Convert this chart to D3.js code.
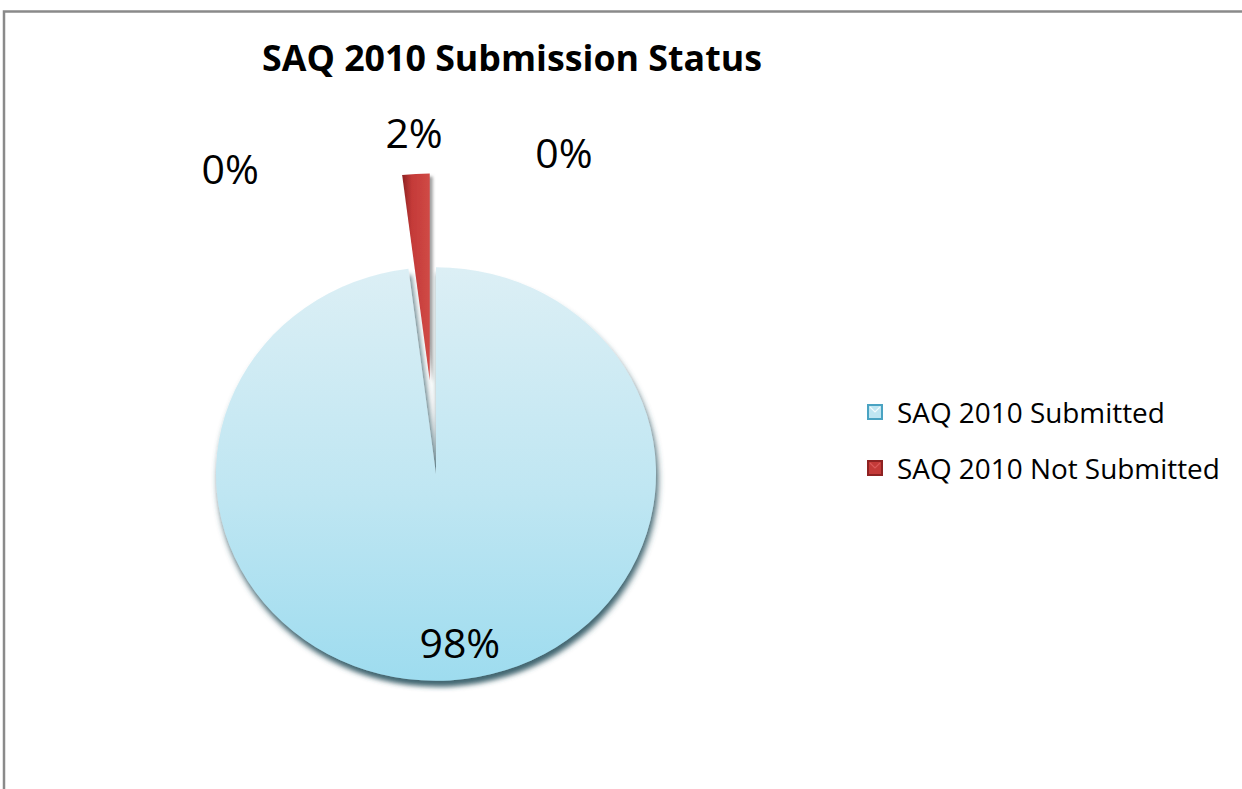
<!DOCTYPE html>
<html>
<head>
<meta charset="utf-8">
<script src="https://cdn.jsdelivr.net/npm/d3@7/dist/d3.min.js"></script>
<style>
  html, body { margin: 0; padding: 0; background: #fff; }
  svg { display: block; }
  text { font-family: "Open Sans", "Noto Sans", sans-serif; fill: #000; }
</style>
</head>
<body>
<svg id="chart" width="1242" height="789"></svg>
<script>
// ---- data ----
const chartTitle = "SAQ 2010 Submission Status";
const categories = ["SAQ 2010 Submitted", "SAQ 2010 Not Submitted", "", ""];
const values = [98, 2, 0, 0];
const legendCategories = ["SAQ 2010 Submitted", "SAQ 2010 Not Submitted"];

// ---- layout ----
const W = 1242, H = 789;
const cx = 436, cy = 474, R = 220, squash = 0.94;
const explode = [0, 100, 0, 0];
const svg = d3.select("#chart");
const defs = svg.append("defs");

// frame
svg.append("path")
  .attr("d", `M4,789 V11.5 H1242`)
  .attr("fill", "none").attr("stroke", "#8a8a8a").attr("stroke-width", 2.5);

// gradients
const gBlue = defs.append("linearGradient").attr("id", "gBlue")
  .attr("x1", 0).attr("y1", 0).attr("x2", 0).attr("y2", 1);
gBlue.append("stop").attr("offset", "0%").attr("stop-color", "#dceff5");
gBlue.append("stop").attr("offset", "55%").attr("stop-color", "#bfe6f2");
gBlue.append("stop").attr("offset", "100%").attr("stop-color", "#9edcef");

const gRed = defs.append("linearGradient").attr("id", "gRed")
  .attr("x1", 0).attr("y1", 0).attr("x2", 1).attr("y2", 0);
gRed.append("stop").attr("offset", "0%").attr("stop-color", "#8e2222");
gRed.append("stop").attr("offset", "35%").attr("stop-color", "#c43a38");
gRed.append("stop").attr("offset", "100%").attr("stop-color", "#d04a46");

const sh = defs.append("filter").attr("id", "shadow")
  .attr("x", "-20%").attr("y", "-20%").attr("width", "140%").attr("height", "140%");
sh.append("feGaussianBlur").attr("in", "SourceAlpha").attr("stdDeviation", 3).attr("result", "b");
sh.append("feOffset").attr("in", "b").attr("dx", 2).attr("dy", 6).attr("result", "o");
sh.append("feFlood").attr("flood-color", "#2c5561").attr("flood-opacity", 0.9);
sh.append("feComposite").attr("in2", "o").attr("operator", "in").attr("result", "s");
const mg = sh.append("feMerge");
mg.append("feMergeNode").attr("in", "s");
mg.append("feMergeNode").attr("in", "SourceGraphic");

const shR = defs.append("filter").attr("id", "shadowR")
  .attr("x", "-50%").attr("y", "-20%").attr("width", "200%").attr("height", "140%");
shR.append("feGaussianBlur").attr("in", "SourceAlpha").attr("stdDeviation", 1.5).attr("result", "b");
shR.append("feOffset").attr("in", "b").attr("dx", 3).attr("dy", 3).attr("result", "o");
shR.append("feFlood").attr("flood-color", "#777").attr("flood-opacity", 0.7);
shR.append("feComposite").attr("in2", "o").attr("operator", "in").attr("result", "s");
const mgR = shR.append("feMerge");
mgR.append("feMergeNode").attr("in", "s");
mgR.append("feMergeNode").attr("in", "SourceGraphic");

const fills = ["url(#gBlue)", "url(#gRed)", "#888", "#888"];
const filters = ["url(#shadow)", "url(#shadowR)", null, null];

// pie
const pie = d3.pie().sort(null).value(d => d)
  .startAngle(0).endAngle(2 * Math.PI);
const arcs = pie(values);
const arc = d3.arc().innerRadius(0).outerRadius(R);

const pg = svg.append("g").attr("transform", `translate(${cx},${cy}) scale(1,${squash})`);
pg.selectAll("path.slice")
  .data(arcs.filter(a => a.value > 0))
  .join("path")
  .attr("class", "slice")
  .attr("d", arc)
  .attr("fill", d => fills[d.index])
  .attr("filter", d => filters[d.index])
  .attr("transform", d => {
    const m = (d.startAngle + d.endAngle) / 2, e = explode[d.index];
    return `translate(${e * Math.sin(m)},${-e * Math.cos(m)})`;
  });

// labels
const fmt = v => Math.round(v / d3.sum(values) * 100) + "%";
// label placement (radius factor, angle shift in degrees) per slice
const labelPlace = [
  { r: 0.82, da: -4 },
  { r: 1.20, da: 0.2 },
  { r: 1.75, da: -32.3 },
  { r: 1.66, da: 20.5 }
];
const labelSize = 41;
function labelPos(d) {
  const p = labelPlace[d.index];
  const mm = (d.startAngle + d.endAngle) / 2;
  const m = mm + p.da * Math.PI / 180;
  const e = explode[d.index];
  return [
    cx + e * Math.sin(mm) + p.r * R * Math.sin(m),
    cy + squash * (-e * Math.cos(mm) - p.r * R * Math.cos(m))
  ];
}
svg.selectAll("text.lbl")
  .data(arcs)
  .join("text")
  .attr("class", "lbl")
  .attr("text-anchor", "middle")
  .attr("dominant-baseline", "central")
  .attr("font-size", labelSize)
  .attr("x", d => labelPos(d)[0])
  .attr("y", d => labelPos(d)[1])
  .text(d => fmt(d.value));

// title
const title = svg.append("text")
  .attr("x", 512).attr("y", 71)
  .attr("text-anchor", "middle")
  .attr("font-weight", "bold")
  .attr("font-size", 30)
  .text(chartTitle);
function fit(sel, target) {
  const w = sel.node().getComputedTextLength();
  const fs = parseFloat(sel.attr("font-size"));
  sel.attr("font-size", fs * target / w);
}
fit(title, 500);

// legend
const lg = svg.append("g").attr("transform", "translate(868,0)");
const legendY = d3.scalePoint().domain(legendCategories).range([412, 468]);
const swFill = ["#bfe6f2", "#c43a38"];
const swStroke = ["#4aa3c2", "#8e2222"];
const items = lg.selectAll("g.item").data(legendCategories).join("g")
  .attr("class", "item")
  .attr("transform", d => `translate(0,${legendY(d)})`);
items.append("rect")
  .attr("x", 0).attr("y", -7).attr("width", 14).attr("height", 14)
  .attr("fill", (d, i) => swFill[i])
  .attr("stroke", (d, i) => swStroke[i]).attr("stroke-width", 2);
items.append("path")
  .attr("d", "M2,-5 L7,0 L12,-5")
  .attr("fill", "none")
  .attr("stroke", (d, i) => i === 0 ? "#ffffff" : "#e06060")
  .attr("stroke-width", 1.2).attr("opacity", 0.8);
const lt = items.append("text")
  .attr("x", 29).attr("y", 0)
  .attr("dominant-baseline", "central")
  .attr("font-size", 24)
  .text(d => d);
fit(d3.select(lt.nodes()[0]), 268);
lt.attr("font-size", d3.select(lt.nodes()[0]).attr("font-size"));
</script>
</body>
</html>
